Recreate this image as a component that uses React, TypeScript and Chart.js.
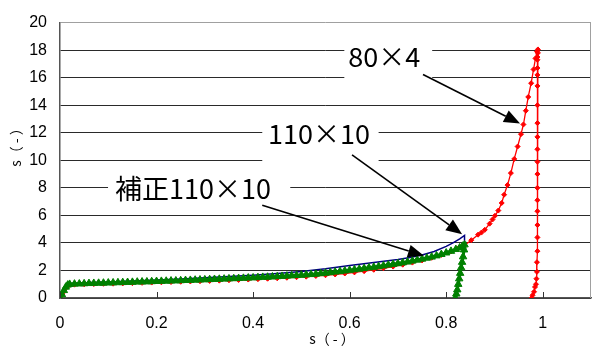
import React, { useEffect, useRef } from 'react';
import { Chart, registerables } from 'chart.js';

Chart.register(...registerables);

// ---- axis ticks ----
const xTickValues = [0, 0.2, 0.4, 0.6, 0.8, 1];
const xTickLabels = ['0', '0.2', '0.4', '0.6', '0.8', '1'];
const yTickValues = [0, 2, 4, 6, 8, 10, 12, 14, 16, 18, 20];
const axisTitle = 's（ - ）';

// ---- series names ----
const seriesNames = ['補正110×10', '110×10', '80×4'];

// ---- series values [x, y] ----
const seriesCorrected110x10: [number, number][] = [
  [0, 0], [0.004, 0.25], [0.008, 0.55], [0.012, 0.8], [0.016, 0.95], [0.02, 1.0],
  [0.03, 1.02], [0.04, 1.03], [0.05, 1.045], [0.06, 1.06], [0.07, 1.07], [0.08, 1.08],
  [0.09, 1.09], [0.1, 1.1], [0.11, 1.11], [0.12, 1.12], [0.13, 1.13], [0.14, 1.14],
  [0.15, 1.15], [0.16, 1.165], [0.17, 1.175], [0.18, 1.18], [0.19, 1.195], [0.2, 1.21],
  [0.21, 1.22], [0.22, 1.23], [0.23, 1.245], [0.24, 1.25], [0.25, 1.265], [0.26, 1.28],
  [0.27, 1.29], [0.28, 1.305], [0.29, 1.32], [0.3, 1.33], [0.31, 1.345], [0.32, 1.36],
  [0.33, 1.37], [0.34, 1.385], [0.35, 1.4], [0.36, 1.41], [0.37, 1.425], [0.38, 1.44],
  [0.39, 1.46], [0.4, 1.47], [0.41, 1.49], [0.42, 1.51], [0.43, 1.52], [0.44, 1.54],
  [0.45, 1.56], [0.46, 1.58], [0.47, 1.6], [0.48, 1.62], [0.49, 1.64], [0.5, 1.66],
  [0.51, 1.69], [0.52, 1.71], [0.53, 1.74], [0.54, 1.78], [0.55, 1.81], [0.56, 1.85],
  [0.57, 1.89], [0.58, 1.93], [0.59, 1.97], [0.6, 2.02], [0.61, 2.06], [0.62, 2.1],
  [0.63, 2.15], [0.64, 2.2], [0.65, 2.24], [0.66, 2.29], [0.67, 2.34], [0.68, 2.4],
  [0.69, 2.45], [0.7, 2.5], [0.71, 2.56], [0.72, 2.62], [0.73, 2.69], [0.74, 2.76],
  [0.75, 2.83], [0.76, 2.9], [0.77, 2.98], [0.78, 3.07], [0.79, 3.17], [0.8, 3.28],
  [0.81, 3.4], [0.82, 3.53], [0.828, 3.65], [0.834, 3.77], [0.838, 3.87],
  [0.837, 3.5], [0.835, 3.0], [0.833, 2.6], [0.831, 2.2], [0.829, 1.8], [0.827, 1.4],
  [0.825, 1.0], [0.823, 0.6], [0.821, 0.3], [0.819, 0],
];

const series110x10: [number, number][] = [
  [0, 0], [0.005, 0.5], [0.01, 0.85], [0.015, 1.0], [0.02, 1.05], [0.05, 1.1], [0.1, 1.17],
  [0.15, 1.24], [0.2, 1.31], [0.25, 1.38], [0.3, 1.47], [0.35, 1.56], [0.4, 1.66],
  [0.45, 1.78], [0.5, 1.92], [0.55, 2.12], [0.6, 2.36], [0.65, 2.58], [0.7, 2.8],
  [0.725, 2.94], [0.75, 3.12], [0.775, 3.38], [0.8, 3.75], [0.815, 4.02], [0.828, 4.3],
  [0.838, 4.55], [0.838, 3.9], [0.834, 2.9], [0.83, 1.9], [0.826, 0.95], [0.821, 0],
];

const series80x4: [number, number][] = [
  [0, 0], [0.005, 0.3], [0.01, 0.65], [0.015, 0.9], [0.02, 0.95], [0.03, 0.97], [0.05, 0.99],
  [0.07, 1.01], [0.09, 1.03], [0.11, 1.04], [0.13, 1.06], [0.15, 1.08], [0.17, 1.1],
  [0.19, 1.12], [0.21, 1.14], [0.23, 1.16], [0.25, 1.18], [0.27, 1.2], [0.29, 1.22],
  [0.31, 1.24], [0.33, 1.26], [0.35, 1.29], [0.37, 1.31], [0.39, 1.34], [0.41, 1.37],
  [0.43, 1.4], [0.45, 1.43], [0.47, 1.47], [0.49, 1.51], [0.51, 1.55], [0.53, 1.6],
  [0.55, 1.65], [0.57, 1.71], [0.59, 1.78], [0.61, 1.86], [0.63, 1.95], [0.65, 2.05],
  [0.67, 2.16], [0.69, 2.28], [0.71, 2.42], [0.73, 2.57], [0.75, 2.73], [0.77, 2.92],
  [0.79, 3.13], [0.81, 3.38], [0.825, 3.6], [0.838, 3.83], [0.852, 4.2], [0.866, 4.6],
  [0.873, 4.75], [0.88, 4.95], [0.89, 5.4], [0.896, 5.7], [0.901, 5.97], [0.908, 6.35],
  [0.915, 6.9], [0.92, 7.5], [0.927, 8.2], [0.934, 9.07], [0.941, 10.1], [0.948, 11.0],
  [0.955, 11.9], [0.96, 12.6], [0.965, 13.6], [0.97, 14.6], [0.976, 15.6], [0.981, 16.6],
  [0.985, 17.4], [0.988, 17.9], [0.99, 18.05],
  [0.99, 17.8], [0.989, 17.5], [0.989, 17.3], [0.989, 16.7], [0.989, 16.2], [0.989, 15.4],
  [0.989, 14.0], [0.989, 12.7], [0.989, 11.7], [0.989, 10.8], [0.989, 9.9], [0.989, 9.0],
  [0.989, 8.0], [0.989, 7.1], [0.989, 6.3], [0.989, 5.3], [0.989, 4.4], [0.989, 3.4],
  [0.988, 2.6], [0.988, 1.9], [0.987, 1.4], [0.986, 1.0], [0.984, 0.8], [0.982, 0.45],
  [0.979, 0.2], [0.977, 0],
];

// ---- callout annotations (in data units) ----
const callouts = [
  { text: seriesNames[2], tx: 0.597, ty: 16.8, box: [0.589, 18.65, 0.771, 15.5], from: [0.752, 16.23], to: [0.953, 12.67] },
  { text: seriesNames[1], tx: 0.431, ty: 11.17, box: [0.419, 12.95, 0.66, 9.4], from: [0.605, 10.4], to: [0.833, 4.63] },
  { text: seriesNames[0], tx: 0.114, ty: 7.19, box: [0.0995, 9.3, 0.477, 6.5], from: [0.419, 6.73], to: [0.754, 3.06] },
];

const FONT = "'Liberation Sans', Arial, sans-serif";
const CALLOUT_FONT = "27px 'Noto Sans CJK JP', 'Liberation Sans', sans-serif";

const overlayPlugin = {
  id: 'overlay',
  afterDatasetsDraw(chart: any) {
    const ctx = chart.ctx as CanvasRenderingContext2D;
    const xs = chart.scales.x;
    const ys = chart.scales.y;
    const a = chart.chartArea;
    ctx.save();
    // right frame
    ctx.strokeStyle = '#a0a0a0';
    ctx.lineWidth = 1;
    ctx.beginPath();
    ctx.moveTo(Math.round(a.right) - 0.5, a.top);
    ctx.lineTo(Math.round(a.right) - 0.5, a.bottom);
    ctx.stroke();
    // inward tick marks on x axis
    ctx.strokeStyle = '#333';
    ctx.beginPath();
    xTickValues.forEach((v) => {
      const px = Math.round(xs.getPixelForValue(v)) + 0.5;
      ctx.moveTo(px, a.bottom);
      ctx.lineTo(px, a.bottom - 6);
    });
    ctx.stroke();

    // callouts
    callouts.forEach((c) => {
      const bx1 = xs.getPixelForValue(c.box[0]);
      const by1 = ys.getPixelForValue(c.box[1]);
      const bx2 = xs.getPixelForValue(c.box[2]);
      const by2 = ys.getPixelForValue(c.box[3]);
      ctx.fillStyle = '#ffffff';
      ctx.fillRect(bx1, by1, bx2 - bx1, by2 - by1);
    });
    callouts.forEach((c) => {
      ctx.fillStyle = '#000';
      ctx.font = CALLOUT_FONT;
      ctx.textAlign = 'left';
      ctx.textBaseline = 'alphabetic';
      ctx.fillText(c.text, xs.getPixelForValue(c.tx), ys.getPixelForValue(c.ty));
      const x1 = xs.getPixelForValue(c.from[0]);
      const y1 = ys.getPixelForValue(c.from[1]);
      const x2 = xs.getPixelForValue(c.to[0]);
      const y2 = ys.getPixelForValue(c.to[1]);
      const ang = Math.atan2(y2 - y1, x2 - x1);
      const headLen = 16;
      const headHalf = 6.5;
      const bxp = x2 - headLen * Math.cos(ang);
      const byp = y2 - headLen * Math.sin(ang);
      ctx.strokeStyle = '#000';
      ctx.lineWidth = 1.6;
      ctx.beginPath();
      ctx.moveTo(x1, y1);
      ctx.lineTo(bxp, byp);
      ctx.stroke();
      ctx.beginPath();
      ctx.moveTo(x2, y2);
      ctx.lineTo(bxp + headHalf * Math.sin(ang), byp - headHalf * Math.cos(ang));
      ctx.lineTo(bxp - headHalf * Math.sin(ang), byp + headHalf * Math.cos(ang));
      ctx.closePath();
      ctx.fillStyle = '#000';
      ctx.fill();
    });
    ctx.restore();
  },
  afterDraw(chart: any) {
    const ctx = chart.ctx as CanvasRenderingContext2D;
    ctx.save();
    ctx.fillStyle = '#000';
    ctx.font = "14px 'Noto Sans CJK JP', sans-serif";
    ctx.textAlign = 'center';
    ctx.textBaseline = 'middle';
    ctx.fillText(axisTitle, 332, 339);
    ctx.translate(16, 144);
    ctx.rotate(-Math.PI / 2);
    ctx.fillText(axisTitle, 0, 0);
    ctx.restore();
  },
};

export default function App() {
  const canvasRef = useRef<HTMLCanvasElement | null>(null);

  useEffect(() => {
    const canvas = canvasRef.current;
    if (!canvas) return;
    Chart.defaults.font.family = FONT;
    const toPts = (arr: [number, number][]) => arr.map(([x, y]) => ({ x, y }));
    const chart = new Chart(canvas, {
      type: 'scatter',
      data: {
        datasets: [
          {
            label: seriesNames[0],
            data: toPts(seriesCorrected110x10),
            showLine: true,
            borderColor: '#008000',
            backgroundColor: '#008000',
            borderWidth: 3,
            pointStyle: 'triangle',
            pointRadius: 4.3,
            pointBorderWidth: 1,
            tension: 0,
          },
          {
            label: seriesNames[1],
            data: toPts(series110x10),
            showLine: true,
            borderColor: '#000080',
            backgroundColor: '#000080',
            borderWidth: 1.5,
            pointRadius: 0,
            tension: 0,
          },
          {
            label: seriesNames[2],
            data: toPts(series80x4),
            showLine: true,
            borderColor: '#ff0000',
            backgroundColor: '#ff0000',
            borderWidth: 1.3,
            pointStyle: 'rectRot',
            pointRadius: 2.5,
            pointBorderWidth: 1,
            tension: 0,
          },
        ],
      },
      options: {
        responsive: false,
        animation: false,
        devicePixelRatio: 1,
        layout: { padding: { left: 0, right: 14, top: 17, bottom: 0 } },
        plugins: {
          legend: { display: false },
          tooltip: { enabled: false },
        },
        scales: {
          x: {
            type: 'linear',
            min: 0,
            max: 1.1,
            afterBuildTicks: (scale: any) => {
              scale.ticks = xTickValues.map((v) => ({ value: v }));
            },
            afterFit: (scale: any) => {
              scale.height = 52;
            },
            grid: { display: true, drawOnChartArea: false, drawTicks: false },
            border: { display: true, color: '#555', width: 1.5 },
            ticks: {
              padding: 16,
              color: '#000',
              font: { size: 16, family: FONT },
              maxRotation: 0,
              autoSkip: false,
              callback: (value: any) => {
                const i = xTickValues.indexOf(Number(value));
                return i >= 0 ? xTickLabels[i] : '';
              },
            },
          },
          y: {
            type: 'linear',
            min: 0,
            max: 20,
            afterBuildTicks: (scale: any) => {
              scale.ticks = yTickValues.map((v) => ({ value: v }));
            },
            afterFit: (scale: any) => {
              scale.width = 60;
            },
            grid: {
              drawTicks: false,
              color: (c: any) => (c.tick && c.tick.value === 20 ? '#a0a0a0' : '#2a2a2a'),
              lineWidth: 1,
            },
            border: { display: true, color: '#555', width: 1.5 },
            ticks: {
              padding: 13,
              color: '#000',
              font: { size: 16, family: FONT },
              autoSkip: false,
              callback: (value: any) => String(value),
            },
          },
        },
      },
      plugins: [overlayPlugin],
    });
    return () => chart.destroy();
  }, []);

  return (
    <div style={{ position: 'fixed', left: 0, top: 0, width: 605, height: 350, background: '#fff' }}>
      <canvas ref={canvasRef} width={605} height={350} style={{ display: 'block', width: 605, height: 350 }} />
    </div>
  );
}
